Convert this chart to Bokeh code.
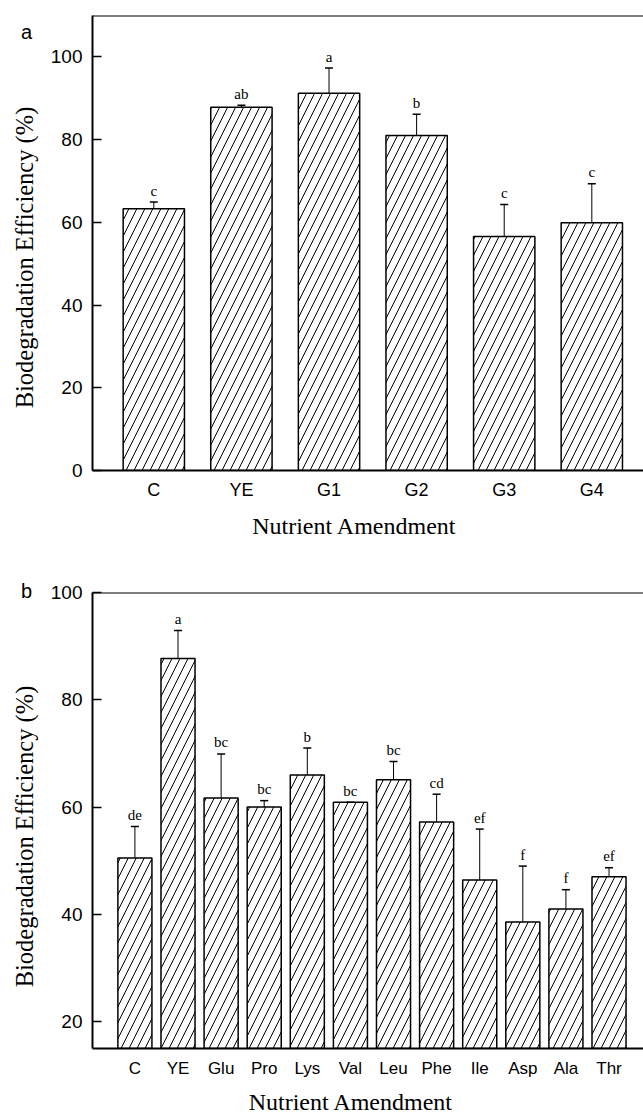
import math
from bokeh.plotting import figure
from bokeh.models import (Range1d, FixedTicker, Whisker, TeeHead, ColumnDataSource, Span)
from bokeh.layouts import column, row
from bokeh.core.properties import value
from bokeh.embed import file_html
from bokeh.resources import INLINE

# ---------------- data ----------------
cats_a = ["C", "YE", "G1", "G2", "G3", "G4"]
eff_a = [63.3, 87.8, 91.2, 81.0, 56.6, 59.9]
err_a = [1.6, 0.5, 6.1, 5.1, 7.7, 9.4]
sig_a = ["c", "ab", "a", "b", "c", "c"]
yticks_a = [0, 20, 40, 60, 80, 100]

cats_b = ["C", "YE", "Glu", "Pro", "Lys", "Val", "Leu", "Phe", "Ile", "Asp", "Ala", "Thr"]
eff_b = [50.5, 87.7, 61.7, 60.0, 66.0, 60.9, 65.1, 57.2, 46.4, 38.6, 41.0, 47.0]
err_b = [5.9, 5.2, 8.2, 1.2, 5.0, 0.0, 3.4, 5.2, 9.5, 10.4, 3.6, 1.7]
sig_b = ["de", "a", "bc", "bc", "b", "bc", "bc", "cd", "ef", "f", "f", "ef"]
yticks_b = [20, 40, 60, 80, 100]

x_title = "Nutrient Amendment"
y_title = "Biodegradation Efficiency (%)"

SANS = "Liberation Sans"
SERIF = "Liberation Serif"
TOTAL_W = 643
LEFT_W = 44          # strip holding the panel letter and the y title
MAIN_W = TOTAL_W - LEFT_W
MAIN_BORDER_LEFT = 48


def text_canvas(w, h):
    f = figure(width=w, height=h, output_backend="svg", toolbar_location=None, title=None,
               x_range=Range1d(0, w), y_range=Range1d(0, h),
               x_axis_type=None, y_axis_type=None,
               min_border=0, min_border_left=0, min_border_right=0,
               min_border_top=0, min_border_bottom=0)
    f.outline_line_color = None
    f.background_fill_color = "white"
    f.border_fill_color = "white"
    return f


def put_text(f, x, y_from_top, text, font, size, angle=0.0):
    h = f.height
    f.text(x=[x], y=[h - y_from_top], text=[text], angle=angle, text_font=value(font),
           text_font_size=size, text_align="center", text_baseline="middle",
           text_color="black")


def make_main(cats, vals, errs, sigs, yticks, x_start, x_end, y_start, y_end,
              bar_width, height, border_top, border_bottom, tick_font, x_standoff,
              hatch_scale):
    frame_h = height - border_top - border_bottom
    ppu = frame_h / (y_end - y_start)

    xs = list(range(1, len(cats) + 1))
    upper = [v + e for v, e in zip(vals, errs)]
    src = ColumnDataSource(dict(x=xs, val=vals, upper=upper,
                                sig_y=[u + 11.5 / ppu for u in upper], sig=sigs))
    p = figure(width=MAIN_W, height=height, output_backend="svg", toolbar_location=None,
               title=None, x_range=Range1d(x_start, x_end), y_range=Range1d(y_start, y_end),
               min_border_left=MAIN_BORDER_LEFT, min_border_right=0,
               min_border_top=border_top, min_border_bottom=border_bottom)
    p.outline_line_color = None
    p.background_fill_color = "white"
    p.border_fill_color = "white"
    p.xgrid.visible = False
    p.ygrid.visible = False

    p.vbar(x="x", top="val", bottom=y_start, width=bar_width, source=src,
           fill_color="white", line_color="black", line_width=1.5,
           hatch_pattern="/", hatch_color="black", hatch_scale=hatch_scale, hatch_weight=1)

    wh = Whisker(base="x", lower="val", upper="upper", source=src, dimension="height",
                 line_color="black", line_width=1,
                 upper_head=TeeHead(size=8, line_color="black", line_width=1.5),
                 lower_head=None)
    p.add_layout(wh)

    p.text(x="x", y="sig_y", text="sig", source=src, text_font=value(SERIF),
           text_font_size="15px", text_align="center", text_baseline="middle",
           text_color="black")

    # top frame line
    p.add_layout(Span(location=y_end, dimension="width", line_color="black", line_width=2))

    p.xaxis.ticker = FixedTicker(ticks=xs)
    p.xaxis.major_label_overrides = {x: c for x, c in zip(xs, cats)}
    p.xaxis.major_tick_line_color = None
    p.xaxis.major_tick_in = 0
    p.xaxis.major_tick_out = 0
    p.xaxis.minor_tick_line_color = None
    p.xaxis.minor_tick_in = 0
    p.xaxis.minor_tick_out = 0
    p.xaxis.axis_line_width = 2
    p.xaxis.major_label_text_font = SANS
    p.xaxis.major_label_text_font_size = tick_font
    p.xaxis.major_label_text_color = "black"
    p.xaxis.major_label_standoff = x_standoff

    p.yaxis.ticker = FixedTicker(ticks=yticks)
    p.yaxis.major_tick_in = 9
    p.yaxis.major_tick_out = 0
    p.yaxis.major_tick_line_width = 1.5
    p.yaxis.minor_tick_line_color = None
    p.yaxis.minor_tick_in = 0
    p.yaxis.minor_tick_out = 0
    p.yaxis.axis_line_width = 2
    p.yaxis.major_label_text_font = SANS
    p.yaxis.major_label_text_font_size = "19px"
    p.yaxis.major_label_text_color = "black"
    p.yaxis.major_label_standoff = 10
    return p


# ---------- panel a : page y 0..505 (plot) + 505..568 (x title) ----------
H_A = 505
main_a = make_main(cats_a, eff_a, err_a, sig_a, yticks_a,
                   x_start=0.3, x_end=6.59, y_start=0, y_end=110,
                   bar_width=0.70, height=H_A, border_top=15, border_bottom=35,
                   tick_font="18px", x_standoff=9, hatch_scale=16)
left_a = text_canvas(LEFT_W, H_A)
put_text(left_a, 26, 31, "a", SANS, "20px")
put_text(left_a, 24, 257, y_title, SERIF, "24.5px", angle=math.pi / 2)
title_a = text_canvas(TOTAL_W, 568 - H_A)
put_text(title_a, 354, 525 - H_A, x_title, SERIF, "24px")

# ---------- panel b : page y 568..1081 (plot) + 1081..1115 (x title) ----------
B_TOP = 568
H_B = 1081 - B_TOP
main_b = make_main(cats_b, eff_b, err_b, sig_b, yticks_b,
                   x_start=0.016, x_end=12.80, y_start=15, y_end=100,
                   bar_width=0.79, height=H_B, border_top=24, border_bottom=33,
                   tick_font="17px", x_standoff=10, hatch_scale=16)
left_b = text_canvas(LEFT_W, H_B)
put_text(left_b, 26, 590 - B_TOP, "b", SANS, "20px")
put_text(left_b, 24, 836 - B_TOP, y_title, SERIF, "24.5px", angle=math.pi / 2)
title_b = text_canvas(TOTAL_W, 1115 - 1081)
put_text(title_b, 350.5, 1101 - 1081, x_title, SERIF, "24px")

# the text strips are wrapped in their own columns so that the row does not
# align their frames with the frames of the bar charts
layout = column(row(column(left_a), main_a, spacing=0), title_a,
                row(column(left_b), main_b, spacing=0), title_b, spacing=0)
open("out.html", "w").write(file_html(layout, INLINE))
